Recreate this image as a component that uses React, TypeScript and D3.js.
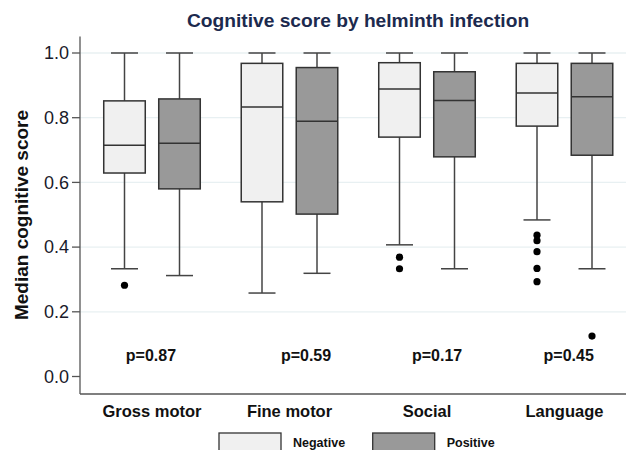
import React from 'react';
import * as d3 from 'd3';

const categories = ['Gross motor', 'Fine motor', 'Social', 'Language'];
const groups = ['Negative', 'Positive'];

// [lowerWhisker, q1, median, q3, upperWhisker] per category
const negativeStats = [
  [0.333, 0.629, 0.715, 0.852, 1.0],
  [0.258, 0.540, 0.833, 0.968, 1.0],
  [0.407, 0.740, 0.889, 0.970, 1.0],
  [0.484, 0.774, 0.876, 0.968, 1.0],
];
const positiveStats = [
  [0.312, 0.580, 0.721, 0.858, 1.0],
  [0.319, 0.502, 0.789, 0.955, 1.0],
  [0.333, 0.679, 0.853, 0.942, 1.0],
  [0.333, 0.684, 0.865, 0.968, 1.0],
];
const negativeOutliers = [
  [0.282],
  [],
  [0.369, 0.333],
  [0.437, 0.420, 0.386, 0.334, 0.293],
];
const positiveOutliers = [[], [], [], [0.125]];

const pValues = ['p=0.87', 'p=0.59', 'p=0.17', 'p=0.45'];
const pValueXPct = [13.0, 41.4, 65.4, 89.5];
const pValueY = 0.066;

const yTicks = [0, 0.2, 0.4, 0.6, 0.8, 1.0];
const gridTicks = [0.2, 0.4, 0.6, 0.8, 1.0];

const fills = { Negative: '#f0f0f0', Positive: '#999999' };
const font = '"Liberation Sans", Arial, sans-serif';

export default function App() {
  const width = 626;
  const height = 450;
  const left = 80;
  const right = 626;
  const axisBottom = 394;

  const y = d3.scaleLinear().domain([0, 1]).range([376.5, 53]);
  const x = d3.scalePoint().domain(categories).range([152, 564.5]);
  const inner = d3.scaleBand().domain(groups).range([-55, 55])
    .paddingInner(0.245).paddingOuter(0.1225);
  const pct = d3.scaleLinear().domain([0, 100]).range([left, right]);
  const bw = inner.bandwidth();
  const capW = 27;

  const stats = { Negative: negativeStats, Positive: positiveStats };
  const outliers = { Negative: negativeOutliers, Positive: positiveOutliers };

  return (
    <svg width={width} height={height} style={{ position: 'absolute', left: 0, top: 0, background: '#fff' }}>
      <text x={358} y={27} textAnchor="middle" fontFamily={font} fontWeight="bold"
        fontSize={19.2} fill="#1c2a4e">Cognitive score by helminth infection</text>

      {gridTicks.map(t => (
        <line key={t} x1={left} x2={right} y1={y(t)} y2={y(t)} stroke="#e8f0f2" strokeWidth={1.3} />
      ))}

      {categories.map((c, i) => groups.map(g => {
        const [lo, q1, med, q3, hi] = stats[g][i];
        const cx = x(c) + inner(g) + bw / 2;
        return (
          <g key={c + g}>
            <line x1={cx} x2={cx} y1={y(hi)} y2={y(q3)} stroke="#444" strokeWidth={1.5} />
            <line x1={cx} x2={cx} y1={y(q1)} y2={y(lo)} stroke="#444" strokeWidth={1.5} />
            <line x1={cx - capW / 2} x2={cx + capW / 2} y1={y(hi)} y2={y(hi)} stroke="#444" strokeWidth={1.5} />
            <line x1={cx - capW / 2} x2={cx + capW / 2} y1={y(lo)} y2={y(lo)} stroke="#444" strokeWidth={1.5} />
            <rect x={cx - bw / 2} y={y(q3)} width={bw} height={y(q1) - y(q3)}
              fill={fills[g]} stroke="#333" strokeWidth={1.5} />
            <line x1={cx - bw / 2} x2={cx + bw / 2} y1={y(med)} y2={y(med)} stroke="#333" strokeWidth={1.5} />
            {outliers[g][i].map((v, k) => (
              <circle key={k} cx={cx} cy={y(v)} r={3.6} fill="#000" />
            ))}
          </g>
        );
      }))}

      {pValues.map((p, i) => (
        <text key={p} x={pct(pValueXPct[i])} y={y(pValueY)} dy="0.35em" textAnchor="middle"
          fontFamily={font} fontWeight="bold" fontSize={16} fill="#111">{p}</text>
      ))}

      <line x1={left} x2={left} y1={36.5} y2={axisBottom} stroke="#555" strokeWidth={1.3} />
      <line x1={left} x2={right} y1={axisBottom} y2={axisBottom} stroke="#555" strokeWidth={1.3} />
      {yTicks.map(t => (
        <g key={t}>
          <line x1={left - 8} x2={left} y1={y(t)} y2={y(t)} stroke="#555" strokeWidth={1.3} />
          <text x={left - 11} y={y(t)} dy="0.35em" textAnchor="end" fontFamily={font}
            fontSize={18} fill="#1a1a2a">{d3.format('.1f')(t)}</text>
        </g>
      ))}

      <text transform="translate(21,215) rotate(-90)" textAnchor="middle" dy="0.35em" fontFamily={font}
        fontWeight="bold" fontSize={19} fill="#111">Median cognitive score</text>

      {categories.map(c => (
        <text key={c} x={x(c)} y={411} dy="0.35em" textAnchor="middle" fontFamily={font}
          fontWeight="bold" fontSize={16.5} fill="#111">{c}</text>
      ))}

      {groups.map((g, i) => (
        <g key={g} transform={`translate(${219 + i * 153.7},433)`}>
          <rect x={0} y={0} width={62} height={22} fill={fills[g]} stroke="#333" strokeWidth={1.3} />
          <text x={74} y={10} dy="0.35em" fontFamily={font} fontWeight="bold" fontSize={12.5} fill="#111">{g}</text>
        </g>
      ))}
    </svg>
  );
}
